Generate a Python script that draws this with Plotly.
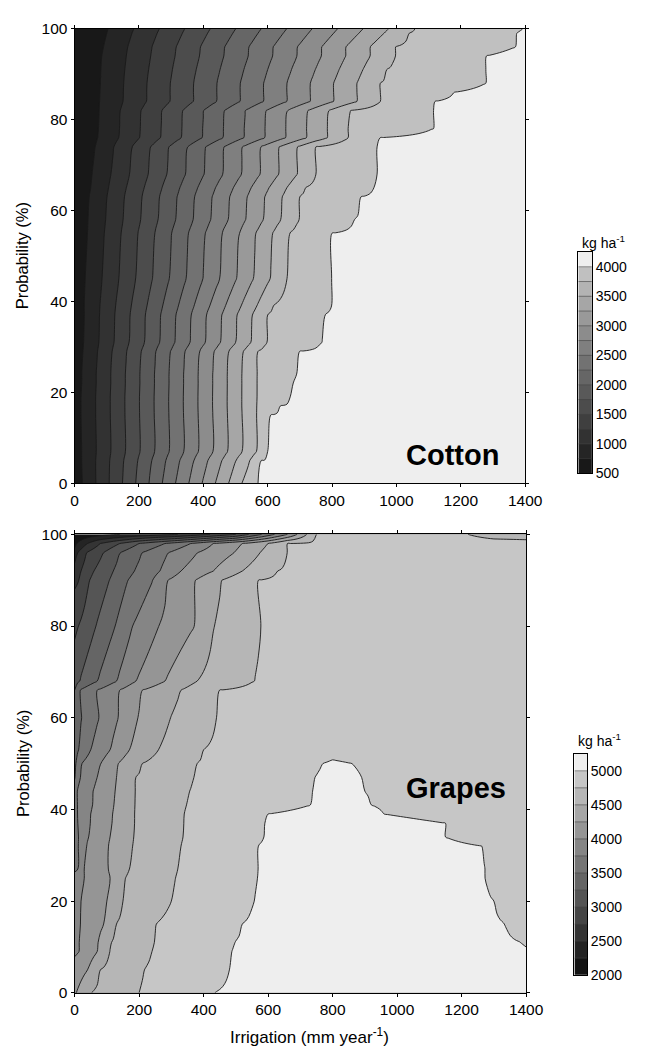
import numpy as np
import plotly.graph_objects as go

# ---------------- Cotton: values ----------------
# For each probability row: irrigation (mm) where yield reaches 750, 3750 and 4000 kg/ha,
# plus the yield read at 0 mm and at 1400 mm.
cotton_prob = [0, 5, 7, 15, 17, 19, 22, 24, 29, 31, 37, 39, 45, 55, 58, 63, 65, 68, 74, 76,
               78, 82, 84, 86, 88, 91, 94, 96, 99, 100]
cotton_irr_750 = [25, 22, 22, 20, 20, 20, 22, 22, 26, 28, 30, 30, 33, 40, 42, 46, 50, 55, 65, 72,
                  75, 77, 78, 79, 80, 82, 85, 90, 100, 105]
cotton_irr_3750 = [520, 545, 566, 566, 565, 565, 565, 565, 570, 595, 600, 615, 660, 668, 695, 700,
                   715, 750, 750, 850, 850, 855, 950, 950, 950, 970, 994, 994, 1040, 1055]
cotton_irr_4000 = [570, 580, 600, 605, 635, 670, 675, 690, 695, 765, 775, 795, 795, 800, 870, 890,
                   930, 940, 940, 945, 1113, 1113, 1120, 1180, 1277, 1277, 1280, 1370, 1375, 1395]
cotton_yield_at_0 = [640, 630, 630, 620, 620, 620, 615, 615, 610, 610, 605, 605, 600, 590, 590,
                     585, 580, 575, 560, 550, 545, 540, 540, 535, 530, 525, 520, 515, 510, 500]
cotton_yield_at_1400 = [4190, 4190, 4185, 4185, 4180, 4180, 4175, 4175, 4170, 4165, 4165, 4160,
                        4160, 4155, 4150, 4145, 4140, 4135, 4135, 4130, 4100, 4100, 4095, 4080,
                        4060, 4060, 4055, 4030, 4025, 4010]

# ---------------- Grapes: (irrigation mm, yield kg/ha) points read along each row ----------------
grapes_prob = [0, 5, 9, 11, 15, 20, 25, 27, 32, 34, 37, 39, 41, 44, 47, 50, 53, 60, 66, 68,
               80, 90, 92, 96, 98, 100]
grapes_rows = [
    [(0, 4220), (51, 4500), (200, 4750), (432, 5000), (800, 5100), (1400, 5050)],
    [(0, 4100), (40, 4250), (80, 4500), (215, 4750), (480, 5000), (800, 5100), (1400, 5050)],
    [(0, 3960), (15, 4000), (70, 4250), (108, 4500), (240, 4750), (485, 5000), (800, 5100), (1400, 5010)],
    [(0, 3950), (15, 4000), (74, 4250), (112, 4500), (246, 4750), (495, 5000), (800, 5100), (1385, 5000), (1400, 4990)],
    [(0, 3930), (18, 4000), (90, 4250), (130, 4500), (252, 4750), (520, 5000), (800, 5100), (1335, 5000), (1400, 4960)],
    [(0, 3920), (20, 4000), (100, 4250), (150, 4500), (300, 4750), (555, 5000), (800, 5100), (1300, 5000), (1400, 4940)],
    [(0, 3850), (30, 4000), (111, 4250), (155, 4500), (312, 4750), (565, 5000), (800, 5100), (1275, 5000), (1400, 4930)],
    [(0, 3700), (10, 3750), (30, 4000), (105, 4250), (170, 4500), (320, 4750), (568, 5000), (800, 5100), (1275, 5000), (1400, 4920)],
    [(0, 3650), (12, 3750), (35, 4000), (105, 4250), (180, 4500), (330, 4750), (570, 5000), (800, 5100), (1265, 5000), (1400, 4910)],
    [(0, 3640), (12, 3750), (42, 4000), (110, 4250), (182, 4500), (335, 4750), (585, 5000), (800, 5090), (1150, 5000), (1400, 4900)],
    [(0, 3625), (10, 3750), (48, 4000), (116, 4250), (184, 4500), (338, 4750), (590, 5000), (800, 5085), (1150, 5000), (1400, 4895)],
    [(0, 3620), (8, 3750), (50, 4000), (118, 4250), (184, 4500), (340, 4750), (600, 5000), (800, 5080), (960, 5000), (1400, 4890)],
    [(0, 3610), (7, 3750), (55, 4000), (122, 4250), (185, 4500), (345, 4750), (732, 5000), (800, 5050), (920, 5000), (1400, 4880)],
    [(0, 3600), (5, 3750), (57, 4000), (126, 4250), (186, 4500), (355, 4750), (738, 5000), (800, 5040), (900, 5000), (1400, 4880)],
    [(0, 3480), (3, 3500), (15, 3750), (70, 4000), (130, 4250), (190, 4500), (370, 4750), (745, 5000), (800, 5030), (890, 5000), (1400, 4880)],
    [(0, 3450), (5, 3500), (21, 3750), (81, 4000), (135, 4250), (210, 4500), (380, 4750), (770, 5000), (800, 5015), (860, 5000), (1400, 4880)],
    [(0, 3400), (12, 3500), (50, 3750), (110, 4000), (170, 4250), (260, 4500), (400, 4750), (800, 4960), (1400, 4880)],
    [(0, 3300), (21, 3500), (75, 3750), (135, 4000), (195, 4250), (297, 4500), (440, 4750), (800, 4900), (1400, 4870)],
    [(0, 3250), (15, 3500), (70, 3750), (140, 4000), (210, 4250), (330, 4500), (446, 4750), (800, 4910), (1400, 4880)],
    [(0, 3150), (15, 3250), (70, 3500), (130, 3750), (190, 4000), (280, 4250), (380, 4500), (555, 4750), (900, 4920), (1400, 4880)],
    [(0, 2950), (12, 3000), (66, 3250), (126, 3500), (180, 3750), (261, 4000), (372, 4250), (432, 4500), (575, 4750), (900, 4930), (1400, 4880)],
    [(0, 2700), (15, 2750), (45, 3000), (108, 3250), (165, 3500), (243, 3750), (290, 4000), (375, 4250), (456, 4500), (570, 4750), (900, 4920), (1400, 4870)],
    [(0, 2650), (20, 2750), (60, 3000), (120, 3250), (185, 3500), (265, 3750), (330, 4000), (430, 4250), (520, 4500), (629, 4750), (950, 4900), (1400, 4860)],
    [(0, 2300), (10, 2500), (36, 2750), (90, 3000), (141, 3250), (210, 3500), (291, 3750), (381, 4000), (495, 4250), (575, 4500), (656, 4750), (1000, 4880), (1400, 4840)],
    [(0, 2200), (40, 2500), (80, 2750), (140, 3000), (200, 3250), (280, 3500), (360, 3750), (430, 4000), (520, 4250), (600, 4500), (660, 4750), (1000, 4850), (1200, 4820), (1400, 4800)],
    [(0, 2050), (140, 2250), (320, 2500), (420, 2750), (500, 3000), (540, 3250), (580, 3500), (620, 3750), (660, 4000), (690, 4250), (720, 4500), (746, 4750), (1000, 4790), (1150, 4780), (1220, 4750), (1300, 4690), (1400, 4680)],
]

# colour bands (grey levels), lowest band first, and the band edges of each colour bar
cotton_grays = [24, 37, 50, 63, 76, 89, 102, 114, 127, 140, 153, 166, 179, 192, 238]
grapes_grays = [20, 36, 52, 69, 85, 101, 117, 133, 149, 166, 182, 198, 238]
cotton_bar_edges = [500, 750, 1000, 1250, 1500, 1750, 2000, 2250, 2500, 2750, 3000, 3250,
                    3500, 3750, 4000, 4250]
grapes_bar_edges = [2000, 2250, 2500, 2750, 3000, 3250, 3500, 3750, 4000, 4250, 4500, 4750,
                    5000, 5250]
cotton_bar_ticks = [500, 1000, 1500, 2000, 2500, 3000, 3500, 4000]
grapes_bar_ticks = [2000, 2500, 3000, 3500, 4000, 4500, 5000]

x_axis_ticks = [0, 200, 400, 600, 800, 1000, 1200, 1400]
y_axis_ticks = [0, 20, 40, 60, 80, 100]

# ---------------- build the grids the contour trace needs ----------------
xg = np.arange(0, 1401, 10)
cotton_z = []
for i in range(len(cotton_prob)):
    xs = [0, cotton_irr_750[i], cotton_irr_3750[i], cotton_irr_4000[i], 1400]
    zs = [cotton_yield_at_0[i], 750, 3750, 4000, cotton_yield_at_1400[i]]
    cotton_z.append(np.interp(xg, xs, zs))
grapes_z = []
for row in grapes_rows:
    xs = [p[0] for p in row]
    zs = [p[1] for p in row]
    grapes_z.append(np.interp(xg, xs, zs))


def step_scale(grays):
    n = len(grays) - 1
    scl = []
    for k, g in enumerate(grays):
        c = f"rgb({g},{g},{g})"
        scl.append([max(0.0, (k - 0.5) / n), c])
        scl.append([min(1.0, (k + 0.5) / n), c])
    return scl


FONT = "Liberation Sans, Arial, sans-serif"
W, H = 664, 1052

fig = go.Figure()
fig.add_trace(go.Contour(
    x=xg, y=cotton_prob, z=cotton_z, xaxis="x", yaxis="y",
    contours=dict(start=750, end=4000, size=250, coloring="fill", showlines=True),
    line=dict(color="#1a1a1a", width=0.9),
    colorscale=step_scale(cotton_grays), showscale=False, hoverinfo="skip",
))
fig.add_trace(go.Contour(
    x=xg, y=grapes_prob, z=grapes_z, xaxis="x2", yaxis="y2",
    contours=dict(start=2250, end=5000, size=250, coloring="fill", showlines=True),
    line=dict(color="#1a1a1a", width=0.9),
    colorscale=step_scale(grapes_grays), showscale=False, hoverinfo="skip",
))


def add_bar(edges, grays, xa, ya):
    e = np.array(edges, dtype=float)
    mids = (e[:-1] + e[1:]) / 2
    fig.add_trace(go.Heatmap(
        z=[[m] for m in mids], x=[0], y=mids, xaxis=xa, yaxis=ya,
        colorscale=step_scale(grays), zmin=mids[0], zmax=mids[-1],
        showscale=False, hoverinfo="skip",
    ))
    sx, sy = [], []
    for v in edges[1:-1]:
        sx += [-0.5, 0.5, None]
        sy += [v, v, None]
    fig.add_trace(go.Scatter(x=sx, y=sy, xaxis=xa, yaxis=ya, mode="lines",
                             line=dict(color="#444", width=0.6), hoverinfo="skip"))


add_bar(cotton_bar_edges, cotton_grays, "x3", "y3")
add_bar(grapes_bar_edges, grapes_grays, "x4", "y4")

axis_common = dict(
    showline=True, linecolor="black", linewidth=1, mirror="ticks",
    ticks="outside", ticklen=3, tickcolor="black", tickwidth=1,
    showgrid=False, zeroline=False,
    tickfont=dict(family=FONT, size=15.5, color="black"),
)
bar_x = dict(showline=True, linecolor="black", linewidth=1, mirror=True, showticklabels=False,
             ticks="", showgrid=False, zeroline=False, range=[-0.5, 0.5], fixedrange=True)
bar_y = dict(showline=True, linecolor="black", linewidth=1, mirror=True, side="right",
             ticks="", showgrid=False, zeroline=False,
             tickfont=dict(family=FONT, size=14, color="black"))


def label(text, x, y, size, bold=False, angle=0, xanchor="center"):
    return dict(text=f"<b>{text}</b>" if bold else text, x=x / W, y=1 - y / H,
                xref="paper", yref="paper", xanchor=xanchor, yanchor="middle",
                textangle=angle, showarrow=False,
                font=dict(family=FONT, size=size, color="black"))


fig.update_layout(
    width=W, height=H,
    margin=dict(l=0, r=0, t=0, b=0),
    paper_bgcolor="white", plot_bgcolor="white",
    showlegend=False,
    font=dict(family=FONT, color="black"),
    xaxis=dict(domain=[73 / W, 539 / W], anchor="y", range=[0, 1400], tickvals=x_axis_ticks, **axis_common),
    yaxis=dict(domain=[1 - 482 / H, 1 - 20 / H], anchor="x", range=[0, 100], tickvals=y_axis_ticks, **axis_common),
    xaxis2=dict(domain=[73 / W, 540 / W], anchor="y2", range=[0, 1400], tickvals=x_axis_ticks, **axis_common),
    yaxis2=dict(domain=[1 - 1000 / H, 1 - 534 / H], anchor="x2", range=[0, 100], tickvals=y_axis_ticks, **axis_common),
    xaxis3=dict(domain=[594 / W, 608 / W], anchor="y3", **bar_x),
    yaxis3=dict(domain=[1 - 472 / H, 1 - 247 / H], anchor="x3",
                range=[cotton_bar_edges[0], cotton_bar_edges[-1]], tickvals=cotton_bar_ticks, **bar_y),
    xaxis4=dict(domain=[590 / W, 603 / W], anchor="y4", **bar_x),
    yaxis4=dict(domain=[1 - 982 / H, 1 - 757 / H], anchor="x4",
                range=[grapes_bar_edges[0], grapes_bar_edges[-1]], tickvals=grapes_bar_ticks, **bar_y),
    annotations=[
        label("Cotton", 464, 453, 29, bold=True),
        label("Grapes", 468, 792, 29, bold=True),
        label("Probability (%)", 19, 251, 16.5, angle=-90),
        label("Probability (%)", 19, 767, 16.5, angle=-90),
        label("Irrigation (mm year<sup>-1</sup>)", 316, 1044, 17),
        label("kg ha<sup>-1</sup>", 596, 237, 14, xanchor="left"),
        label("kg ha<sup>-1</sup>", 592, 743, 14, xanchor="left"),
    ],
)

fig.write_html("out.html")
